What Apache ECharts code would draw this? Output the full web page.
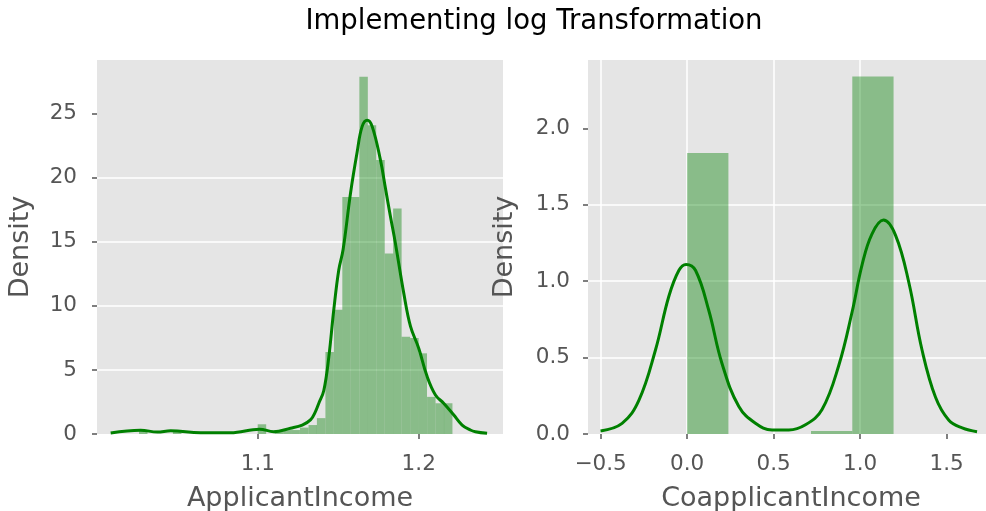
<!DOCTYPE html>
<html>
<head>
<meta charset="utf-8">
<title>Implementing log Transformation</title>
<script src="https://cdn.jsdelivr.net/npm/echarts@6/dist/echarts.min.js"></script>
<style>
  html, body { margin: 0; padding: 0; background: #fff; }
  #chart { width: 986px; height: 511px; }
</style>
</head>
<body>
<div id="chart"></div>
<script>
// ApplicantIncome (after log transform): histogram bins + kde
const applicantBinLeft = [1.0261, 1.0472, 1.0999, 1.1104, 1.1157, 1.1209, 1.1262, 1.1315, 1.1367,
  1.1420, 1.1473, 1.1525, 1.1578, 1.1631, 1.1683, 1.1736, 1.1789, 1.1841, 1.1894, 1.1947,
  1.1999, 1.2052, 1.2105, 1.2157];
const applicantBinWidth = 0.00527;
const applicantDensity = [0.31, 0.31, 0.76, 0.31, 0.31, 0.31, 0.5, 0.7, 1.24,
  6.4, 9.7, 18.5, 18.5, 27.9, 24.1, 21.4, 14.1, 17.6, 7.6, 7.5,
  6.3, 2.9, 2.4, 2.4];
const applicantKdeX = [1.0085, 1.0271, 1.0375, 1.0458, 1.0644, 1.0830, 1.1011, 1.1098, 1.1203, 1.1276,
  1.1327, 1.1358, 1.1379, 1.1410, 1.1441, 1.1472, 1.1503, 1.1530, 1.1576, 1.1617,
  1.1648, 1.1680, 1.1711, 1.1762, 1.1793, 1.1824, 1.1855, 1.1907, 1.1949, 1.2000,
  1.2052, 1.2104, 1.2155, 1.2217, 1.2270, 1.2321, 1.2352, 1.2425];
const applicantKdeY = [0.08, 0.3, 0.15, 0.25, 0.1, 0.1, 0.38, 0.18, 0.45, 0.7,
  1.1, 1.75, 2.4, 3.4, 6.0, 9.7, 12.8, 14.4, 18.8, 22.0,
  24.0, 24.5, 24.0, 21.4, 19.2, 17.0, 14.9, 11.0, 8.4, 6.7,
  4.5, 3.05, 2.4, 1.5, 0.7, 0.31, 0.18, 0.05];

// CoapplicantIncome: histogram bins + kde
const coapplicantBinEdges = [0, 0.2387, 0.4774, 0.7161, 0.9548, 1.1935];
const coapplicantDensity = [1.84, 0, 0, 0.02, 2.34];
const coapplicantKdeX = [-0.5006, -0.376, -0.279, -0.183, -0.106, -0.048, -0.006, 0.049, 0.125, 0.202,
  0.299, 0.395, 0.491, 0.588, 0.684, 0.780, 0.877, 0.954, 1.012, 1.069,
  1.135, 1.205, 1.282, 1.358, 1.436, 1.513, 1.590, 1.676];
const coapplicantKdeY = [0.02, 0.07, 0.22, 0.55, 0.90, 1.07, 1.11, 1.07, 0.81, 0.46,
  0.18, 0.07, 0.026, 0.026, 0.06, 0.16, 0.45, 0.80, 1.11, 1.31,
  1.40, 1.30, 0.99, 0.55, 0.24, 0.09, 0.04, 0.015];

// tick labels
const applicantXTicks = [1.1, 1.2];
const applicantYTicks = [0, 5, 10, 15, 20, 25];
const coapplicantXTicks = [-0.5, 0, 0.5, 1, 1.5];
const coapplicantYTicks = [0, 0.5, 1, 1.5, 2];

const FONT = "DejaVu Sans";
const TEXT = "#555555";
const BAR_FILL = "rgba(0, 128, 0, 0.4)";
const LINE = "#008000";

const fixed1 = v => v.toFixed(1).replace("-", "\u2212");

const histBar = (params, api) => {
  const topLeft = api.coord([api.value(0), api.value(2)]);
  const bottomRight = api.coord([api.value(1), 0]);
  const cs = params.coordSys;
  const shape = echarts.graphic.clipRectByRect(
    { x: topLeft[0], y: topLeft[1], width: bottomRight[0] - topLeft[0], height: bottomRight[1] - topLeft[1] },
    { x: cs.x, y: cs.y, width: cs.width, height: cs.height }
  );
  return shape && { type: "rect", shape, style: { fill: BAR_FILL } };
};

const gridLine = { color: "#ffffff", width: 1.5 };

const xAxisBase = (gridIndex, min, max, ticks, fmt, name, extra) => Object.assign({
  type: "value",
  gridIndex,
  min,
  max,
  name,
  nameLocation: "middle",
  nameGap: 51,
  nameTextStyle: { color: TEXT, fontSize: 27, fontFamily: FONT },
  axisLine: { show: false, onZero: false },
  axisTick: { show: true, length: 5, customValues: ticks, lineStyle: { color: TEXT, width: 1.5 } },
  axisLabel: { customValues: ticks, formatter: fmt, color: TEXT, fontSize: 21.5, fontFamily: FONT, margin: 19 },
  splitLine: { show: true, showMinLine: false, showMaxLine: false, lineStyle: gridLine }
}, extra || {});

const yAxisBase = (gridIndex, max, interval, ticks, fmt, nameGap, margin) => ({
  type: "value",
  gridIndex,
  min: 0,
  max,
  interval,
  name: "Density",
  nameLocation: "middle",
  nameGap,
  nameTextStyle: { color: TEXT, fontSize: 27, fontFamily: FONT },
  axisLine: { show: false, onZero: false },
  axisTick: { show: true, length: 5, customValues: ticks, lineStyle: { color: TEXT, width: 1.5 } },
  axisLabel: { customValues: ticks, formatter: fmt, color: TEXT, fontSize: 21.5, fontFamily: FONT, margin },
  splitLine: { show: true, showMinLine: false, showMaxLine: false, lineStyle: gridLine }
});

const chart = echarts.init(document.getElementById("chart"), null, { renderer: "canvas" });

chart.setOption({
  animation: false,
  backgroundColor: "#ffffff",
  title: {
    text: "Implementing log Transformation",
    left: 529,
    top: 3,
    textAlign: "center",
    textStyle: { fontSize: 27.5, fontWeight: "normal", color: "#000000", fontFamily: FONT }
  },
  grid: [
    { left: 97, top: 60, width: 406, height: 374, containLabel: false, outerBoundsMode: "none",
      show: true, backgroundColor: "#E5E5E5", borderWidth: 0 },
    { left: 588, top: 60, width: 406, height: 374, containLabel: false, outerBoundsMode: "none",
      show: true, backgroundColor: "#E5E5E5", borderWidth: 0 }
  ],
  xAxis: [
    xAxisBase(0, 1.0, 1.2524, applicantXTicks, v => v.toFixed(1), "ApplicantIncome", { interval: 0.1 }),
    xAxisBase(1, -0.573, 1.774, coapplicantXTicks, fixed1, "CoapplicantIncome",
      { splitLine: { show: true, showMinLine: true, showMaxLine: false, lineStyle: gridLine } })
  ],
  yAxis: [
    yAxisBase(0, 29.2, 5, applicantYTicks, v => String(v), 63, 20),
    yAxisBase(1, 2.448, 0.5, coapplicantYTicks, fixed1, 70, 18)
  ],
  series: [
    {
      type: "custom",
      xAxisIndex: 0,
      yAxisIndex: 0,
      renderItem: histBar,
      encode: { x: [0, 1], y: 2 },
      data: applicantBinLeft.map((x, i) => [x, x + applicantBinWidth, applicantDensity[i]]),
      z: 2
    },
    {
      type: "line",
      xAxisIndex: 0,
      yAxisIndex: 0,
      data: applicantKdeX.map((x, i) => [x, applicantKdeY[i]]),
      smooth: 0.4,
      showSymbol: false,
      symbol: "none",
      lineStyle: { color: LINE, width: 3 },
      z: 3
    },
    {
      type: "custom",
      xAxisIndex: 1,
      yAxisIndex: 1,
      renderItem: histBar,
      encode: { x: [0, 1], y: 2 },
      data: coapplicantDensity.map((d, i) => [coapplicantBinEdges[i], coapplicantBinEdges[i + 1], d]),
      z: 2
    },
    {
      type: "line",
      xAxisIndex: 1,
      yAxisIndex: 1,
      data: coapplicantKdeX.map((x, i) => [x, coapplicantKdeY[i]]),
      smooth: 0.4,
      showSymbol: false,
      symbol: "none",
      lineStyle: { color: LINE, width: 3 },
      z: 3
    }
  ]
});
</script>
</body>
</html>
